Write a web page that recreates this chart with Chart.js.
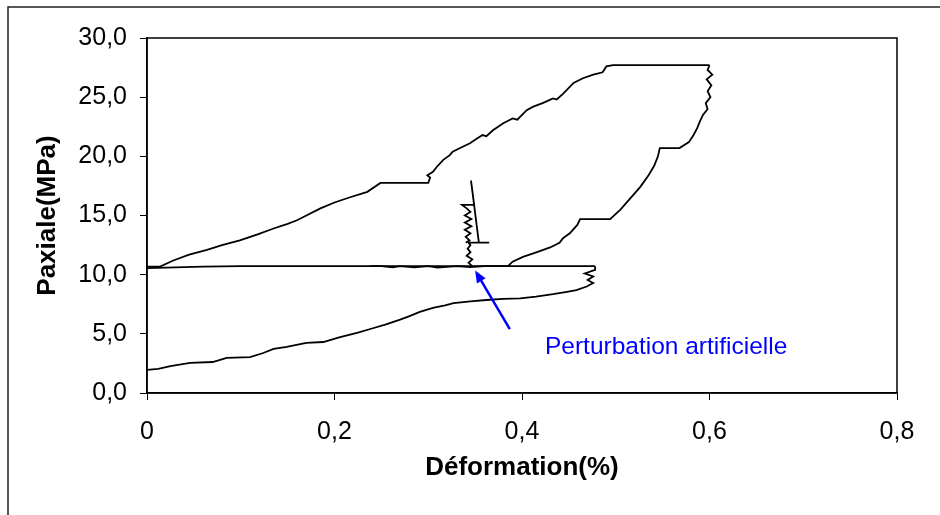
<!DOCTYPE html>
<html>
<head>
<meta charset="utf-8">
<script src="https://cdn.jsdelivr.net/npm/chart.js@4.4.1/dist/chart.umd.min.js"></script>
<style>
  html, body { margin: 0; padding: 0; background: #fff; }
  #wrap { width: 940px; height: 515px; }
</style>
</head>
<body>
<div id="wrap"><canvas id="chart" width="940" height="515"></canvas></div>
<script>
// Essai cyclique : déformation (%) / contrainte axiale (MPa)
const lowerBranch = [
    [0, 1.95], [0.012, 2.03], [0.025, 2.28], [0.046, 2.54], [0.07, 2.62], [0.085, 2.96],
    [0.11, 3.04], [0.124, 3.38], [0.135, 3.72], [0.149, 3.89], [0.17, 4.23], [0.188, 4.31],
    [0.206, 4.73], [0.225, 5.1], [0.24, 5.45], [0.255, 5.8], [0.27, 6.2], [0.28, 6.5],
    [0.291, 6.85], [0.305, 7.2], [0.318, 7.4], [0.327, 7.6], [0.345, 7.75], [0.362, 7.86],
    [0.38, 7.95], [0.398, 8.0], [0.415, 8.15], [0.433, 8.35], [0.448, 8.55], [0.458, 8.7],
    [0.469, 9.0], [0.476, 9.3], [0.47, 9.55], [0.476, 9.85], [0.467, 10.1], [0.478, 10.4],
    [0.478, 10.72]
];

const returnLine = [
    [0.478, 10.72], [0.3, 10.72], [0.1, 10.72], [0.06, 10.68], [0.03, 10.62], [0, 10.55]
];

const loadingBranch = [
    [0, 10.68], [0.014, 10.68], [0.028, 11.2], [0.045, 11.7], [0.064, 12.1], [0.08, 12.5],
    [0.099, 12.9], [0.118, 13.4], [0.135, 13.9], [0.15, 14.3], [0.16, 14.6], [0.17, 15.0],
    [0.185, 15.6], [0.2, 16.1], [0.215, 16.5], [0.235, 17.0], [0.249, 17.75], [0.30, 17.75],
    [0.302, 18.2], [0.299, 18.4], [0.305, 18.7], [0.309, 19.1], [0.316, 19.7], [0.323, 20.1],
    [0.326, 20.4], [0.334, 20.7], [0.3445, 21.1], [0.352, 21.5], [0.358, 21.8], [0.362, 21.7],
    [0.369, 22.2], [0.38, 22.8], [0.39, 23.2], [0.395, 23.1], [0.405, 23.9], [0.412, 24.2],
    [0.422, 24.5], [0.433, 24.9], [0.437, 24.8], [0.444, 25.3], [0.455, 26.2], [0.465, 26.6],
    [0.476, 26.9], [0.486, 27.1], [0.49, 27.6], [0.497, 27.7], [0.6, 27.7]
];

const unloadingBranch = [
    [0.6, 27.7], [0.598, 27.3], [0.603, 26.9], [0.597, 26.5], [0.602, 26.0], [0.598, 25.5],
    [0.601, 25.0], [0.596, 24.5], [0.598, 24.0], [0.593, 23.5], [0.59, 23.0], [0.587, 22.4],
    [0.583, 21.8], [0.578, 21.2], [0.568, 20.7], [0.547, 20.7], [0.545, 20.0], [0.541, 19.2],
    [0.535, 18.4], [0.526, 17.4], [0.515, 16.4], [0.505, 15.5], [0.494, 14.7], [0.462, 14.7],
    [0.459, 14.2], [0.451, 13.5], [0.444, 13.1], [0.44, 12.7], [0.43, 12.3], [0.416, 11.9],
    [0.401, 11.5], [0.39, 11.1], [0.385, 10.72], [0.36, 10.72], [0.345, 10.65], [0.33, 10.72],
    [0.31, 10.6], [0.3, 10.72], [0.285, 10.62], [0.27, 10.72], [0.262, 10.62], [0.25, 10.72],
    [0.238, 10.72]
];

const perturbation = [
    [0.347, 10.72], [0.343, 11.0], [0.347, 11.3], [0.341, 11.6], [0.345, 11.9], [0.342, 12.2],
    [0.345, 12.5], [0.343, 12.7], [0.365, 12.7], [0.354, 12.7], [0.3456, 17.95], [0.349, 15.9],
    [0.336, 15.9], [0.341, 15.6], [0.345, 15.3], [0.339, 15.0], [0.346, 14.7], [0.339, 14.4],
    [0.346, 14.1], [0.339, 13.8], [0.345, 13.5], [0.34, 13.2], [0.344, 12.9], [0.34, 12.7]
];

const xTickLabels = ['0', '0,2', '0,4', '0,6', '0,8'];
const yTickLabels = ['0,0', '5,0', '10,0', '15,0', '20,0', '25,0', '30,0'];

const FONT = '"Liberation Sans", Arial, sans-serif';

const toPoints = arr => arr.map(p => ({ x: p[0], y: p[1] }));

function curve(label, arr) {
    return {
        label: label,
        data: toPoints(arr),
        showLine: true,
        borderColor: '#000',
        borderWidth: 1.8,
        pointRadius: 0,
        tension: 0,
        fill: false
    };
}

// cadre extérieur, bordure de la zone de tracé, flèche et note
const decorations = {
    id: 'decorations',
    afterDraw(chart) {
        const { ctx, chartArea: a, scales } = chart;
        ctx.save();

        ctx.strokeStyle = '#222';
        ctx.lineWidth = 1.5;
        ctx.beginPath();
        ctx.moveTo(8, 515);
        ctx.lineTo(8, 7);
        ctx.lineTo(940, 7);
        ctx.stroke();

        ctx.strokeStyle = '#000';
        ctx.lineWidth = 1.5;
        ctx.strokeRect(a.left, a.top, a.right - a.left, a.bottom - a.top);

        const x0 = scales.x.getPixelForValue(0.387), y0 = scales.y.getPixelForValue(5.4);
        const x1 = scales.x.getPixelForValue(0.350), y1 = scales.y.getPixelForValue(10.35);
        const ang = Math.atan2(y1 - y0, x1 - x0);
        ctx.strokeStyle = '#0000ff';
        ctx.fillStyle = '#0000ff';
        ctx.lineWidth = 2.5;
        ctx.beginPath();
        ctx.moveTo(x0, y0);
        ctx.lineTo(x1 - 8 * Math.cos(ang), y1 - 8 * Math.sin(ang));
        ctx.stroke();
        ctx.beginPath();
        ctx.moveTo(x1, y1);
        ctx.lineTo(x1 - 12 * Math.cos(ang) + 5 * Math.sin(ang), y1 - 12 * Math.sin(ang) - 5 * Math.cos(ang));
        ctx.lineTo(x1 - 12 * Math.cos(ang) - 5 * Math.sin(ang), y1 - 12 * Math.sin(ang) + 5 * Math.cos(ang));
        ctx.closePath();
        ctx.fill();

        ctx.font = '24.5px ' + FONT;
        ctx.textAlign = 'left';
        ctx.textBaseline = 'middle';
        ctx.fillText('Perturbation artificielle',
            scales.x.getPixelForValue(0.4245), scales.y.getPixelForValue(3.9));
        ctx.restore();
    }
};

new Chart(document.getElementById('chart'), {
    type: 'scatter',
    data: {
        datasets: [
            curve('Branche inférieure', lowerBranch),
            curve('Retour', returnLine),
            curve('Chargement', loadingBranch),
            curve('Déchargement', unloadingBranch),
            curve('Perturbation', perturbation)
        ]
    },
    options: {
        responsive: false,
        animation: false,
        devicePixelRatio: 1,
        layout: { padding: { top: 38, right: 43, bottom: 0, left: 0 } },
        plugins: {
            legend: { display: false },
            tooltip: { enabled: false }
        },
        scales: {
            x: {
                type: 'linear',
                min: 0,
                max: 0.8,
                afterFit: s => { s.height = 122; },
                border: { display: true, color: '#000', width: 1.5 },
                grid: { drawOnChartArea: false, drawTicks: true, tickLength: 7, color: '#000' },
                ticks: {
                    stepSize: 0.2,
                    padding: 17,
                    color: '#000',
                    font: { family: FONT, size: 25 },
                    callback: (v, i) => xTickLabels[i]
                },
                title: {
                    display: true,
                    text: 'Déformation(%)',
                    color: '#000',
                    font: { family: FONT, size: 26, weight: 'bold' },
                    padding: { top: 0, bottom: 32 }
                }
            },
            y: {
                type: 'linear',
                min: 0,
                max: 30,
                afterFit: s => { s.width = 147; },
                border: { display: true, color: '#000', width: 1.5 },
                grid: { drawOnChartArea: false, drawTicks: true, tickLength: 7, color: '#000' },
                ticks: {
                    stepSize: 5,
                    padding: 13,
                    color: '#000',
                    font: { family: FONT, size: 25 },
                    callback: (v, i) => yTickLabels[i]
                },
                title: {
                    display: true,
                    text: 'Paxiale(MPa)',
                    color: '#000',
                    font: { family: FONT, size: 26, weight: 'bold' },
                    padding: { top: 32, bottom: 0 }
                }
            }
        }
    },
    plugins: [decorations]
});
</script>
</body>
</html>
